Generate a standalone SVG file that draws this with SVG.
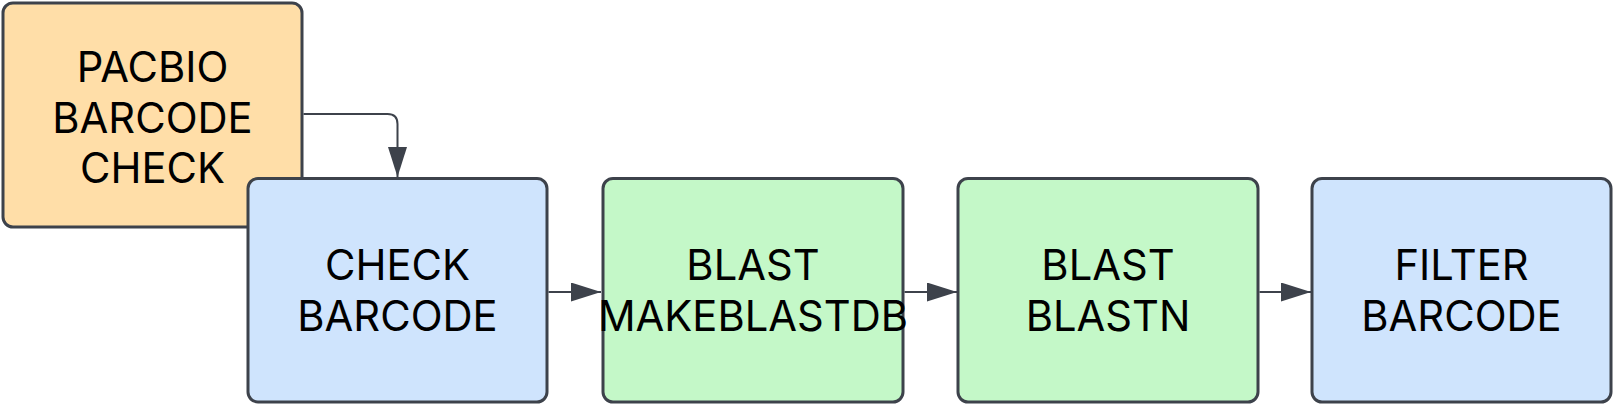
<svg xmlns="http://www.w3.org/2000/svg" width="1613" height="405" viewBox="0 0 1613 405">
<style>
.box{stroke:#3d424b;stroke-width:3}
.orange{fill:#ffdea8}
.blue{fill:#cfe4fd}
.green{fill:#c4f8c8}
.lbl{font-family:Inter,"Liberation Sans",sans-serif;font-size:41.7px;fill:#000;text-anchor:middle}
.edge{fill:none;stroke:#3d424b;stroke-width:2}
</style>
<defs>
<marker id="arr" markerUnits="userSpaceOnUse" markerWidth="30" markerHeight="20" refX="30" refY="9.5" orient="auto">
<path d="M0,0 L30,9.5 L0,19 Z" fill="#3d424b"/>
</marker>
</defs>
<rect width="1613" height="405" fill="#ffffff"/>
<g id="node-pacbio">
<rect class="box orange" x="3" y="3" width="299" height="224" rx="10"/>
<text class="lbl" x="152.5" y="82">PACBIO</text>
<text class="lbl" x="152.5" y="133">BARCODE</text>
<text class="lbl" x="152.5" y="183">CHECK</text>
</g>
<g id="connectors">
<path class="edge" d="M303.5,114 H387.5 Q397.5,114 397.5,124 V177" marker-end="url(#arr)"/>
<path class="edge" d="M548.5,292 H601" marker-end="url(#arr)"/>
<path class="edge" d="M904.5,292 H957" marker-end="url(#arr)"/>
<path class="edge" d="M1259.5,292 H1311" marker-end="url(#arr)"/>
</g>
<g id="node-check">
<rect class="box blue" x="248" y="178.5" width="299" height="223.5" rx="10"/>
<text class="lbl" x="397.5" y="280">CHECK</text>
<text class="lbl" x="397.5" y="331">BARCODE</text>
</g>
<g id="node-makeblastdb">
<rect class="box green" x="603" y="178.5" width="300" height="223.5" rx="10"/>
<text class="lbl" x="753" y="280">BLAST</text>
<text class="lbl" x="753" y="331">MAKEBLASTDB</text>
</g>
<g id="node-blastn">
<rect class="box green" x="958" y="178.5" width="300" height="223.5" rx="10"/>
<text class="lbl" x="1108" y="280">BLAST</text>
<text class="lbl" x="1108" y="331">BLASTN</text>
</g>
<g id="node-filter">
<rect class="box blue" x="1312" y="178.5" width="299" height="223.5" rx="10"/>
<text class="lbl" x="1461.5" y="280">FILTER</text>
<text class="lbl" x="1461.5" y="331">BARCODE</text>
</g>
</svg>
